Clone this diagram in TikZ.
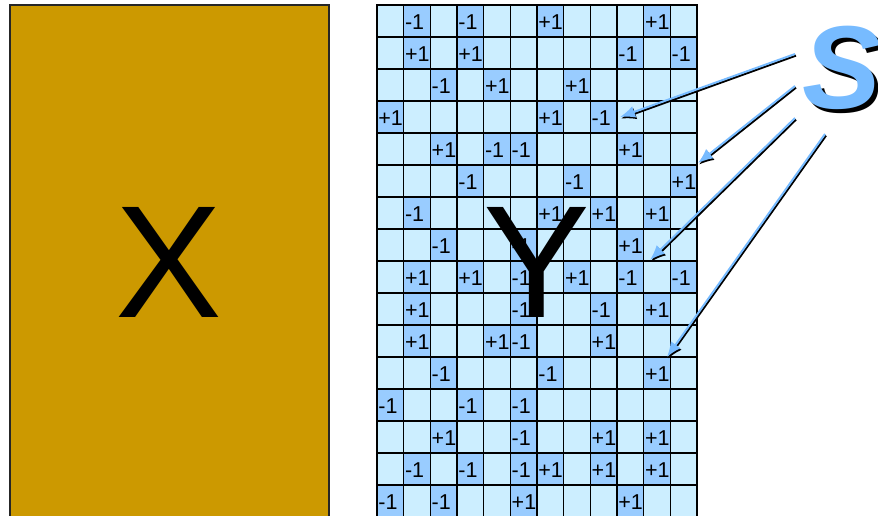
\documentclass[tikz,border=0pt]{standalone}
\usepackage{fontspec}
\setmainfont{Liberation Sans}
\usetikzlibrary{arrows.meta}
\definecolor{gold}{HTML}{CC9900}
\definecolor{cellbg}{HTML}{CCEEFF}
\definecolor{cellhi}{HTML}{99CCFF}
\definecolor{sblue}{HTML}{77BBFF}

\begin{document}
\begin{tikzpicture}[x=1pt, y=-1pt,
    entry/.style={anchor=west, inner sep=0pt, font=\fontsize{21.5}{21.5}\selectfont},
    biglabel/.style={inner sep=0pt, font=\fontsize{160}{160}\selectfont},
    pointer/.style={line width=2pt, -{Latex[length=15pt,width=12pt]}}]
    \useasboundingbox (0,0) rectangle (878,515);
    \clip (0,0) rectangle (878,515);

    % X block
    \draw[fill=gold, draw=black!85, line width=1.5pt] (10,5) rectangle (329,530);
    \node[biglabel] (xlab) at (169,262) {X};

    % Y: grid of cells with +1/-1 entries
    \fill[cellbg] (377,5) rectangle (697,530);
    \foreach \r/\c/\v in {0/1/-1, 0/3/-1, 0/6/+1, 0/10/+1,
        1/1/+1, 1/3/+1, 1/9/-1, 1/11/-1,
        2/2/-1, 2/4/+1, 2/7/+1,
        3/0/+1, 3/6/+1, 3/8/-1,
        4/2/+1, 4/4/-1, 4/5/-1, 4/9/+1,
        5/3/-1, 5/7/-1, 5/11/+1,
        6/1/-1, 6/6/+1, 6/8/+1, 6/10/+1,
        7/2/-1, 7/5/-1, 7/9/+1,
        8/1/+1, 8/3/+1, 8/5/-1, 8/7/+1, 8/9/-1, 8/11/-1,
        9/1/+1, 9/5/-1, 9/8/-1, 9/10/+1,
        10/1/+1, 10/4/+1, 10/5/-1, 10/8/+1,
        11/2/-1, 11/6/-1, 11/10/+1,
        12/0/-1, 12/3/-1, 12/5/-1,
        13/2/+1, 13/5/-1, 13/8/+1, 13/10/+1,
        14/1/-1, 14/3/-1, 14/5/-1, 14/6/+1, 14/8/+1, 14/10/+1,
        15/0/-1, 15/2/-1, 15/5/+1, 15/9/+1} {
      \fill[cellhi] ({377+\c*26.667},{5+\r*32}) rectangle ++(26.667,32);
      \node[entry] (e\r-\c) at ({378.2+\c*26.667},{22.5+\r*32}) {\v};
    }
    \foreach \c in {0,...,12}
      \draw[line width=1.4pt] ({377+\c*26.667},4.3) -- ({377+\c*26.667},530);
    \foreach \r in {0,...,16}
      \draw[line width=1.4pt] (376.3,{5+\r*32}) -- (697.7,{5+\r*32});
    \node[biglabel] (ylab) at (537,262) {Y};

    % S with shadow, and its pointers
    \node[biglabel, font=\fontsize{118}{118}\selectfont\bfseries\itshape, text=black]
      (sshadow) at (846,72) {S};
    \node[biglabel, font=\fontsize{118}{118}\selectfont\bfseries\itshape, text=sblue]
      (slab) at (842,68) {S};
    \coordinate (a1) at (795,54);  \coordinate (t1) at (620,117);
    \coordinate (a2) at (795,86);  \coordinate (t2) at (698,163);
    \coordinate (a3) at (795,118); \coordinate (t3) at (650,260);
    \coordinate (a4) at (825,134); \coordinate (t4) at (667,357);
    \foreach \s/\t in {a1/t1, a2/t2, a3/t3, a4/t4} {
      \draw[pointer, black] ([shift={(1,1.6)}]\s) -- ([shift={(1,1.6)}]\t);
      \draw[pointer, sblue] (\s) -- (\t);
    }
\end{tikzpicture}
\end{document}
